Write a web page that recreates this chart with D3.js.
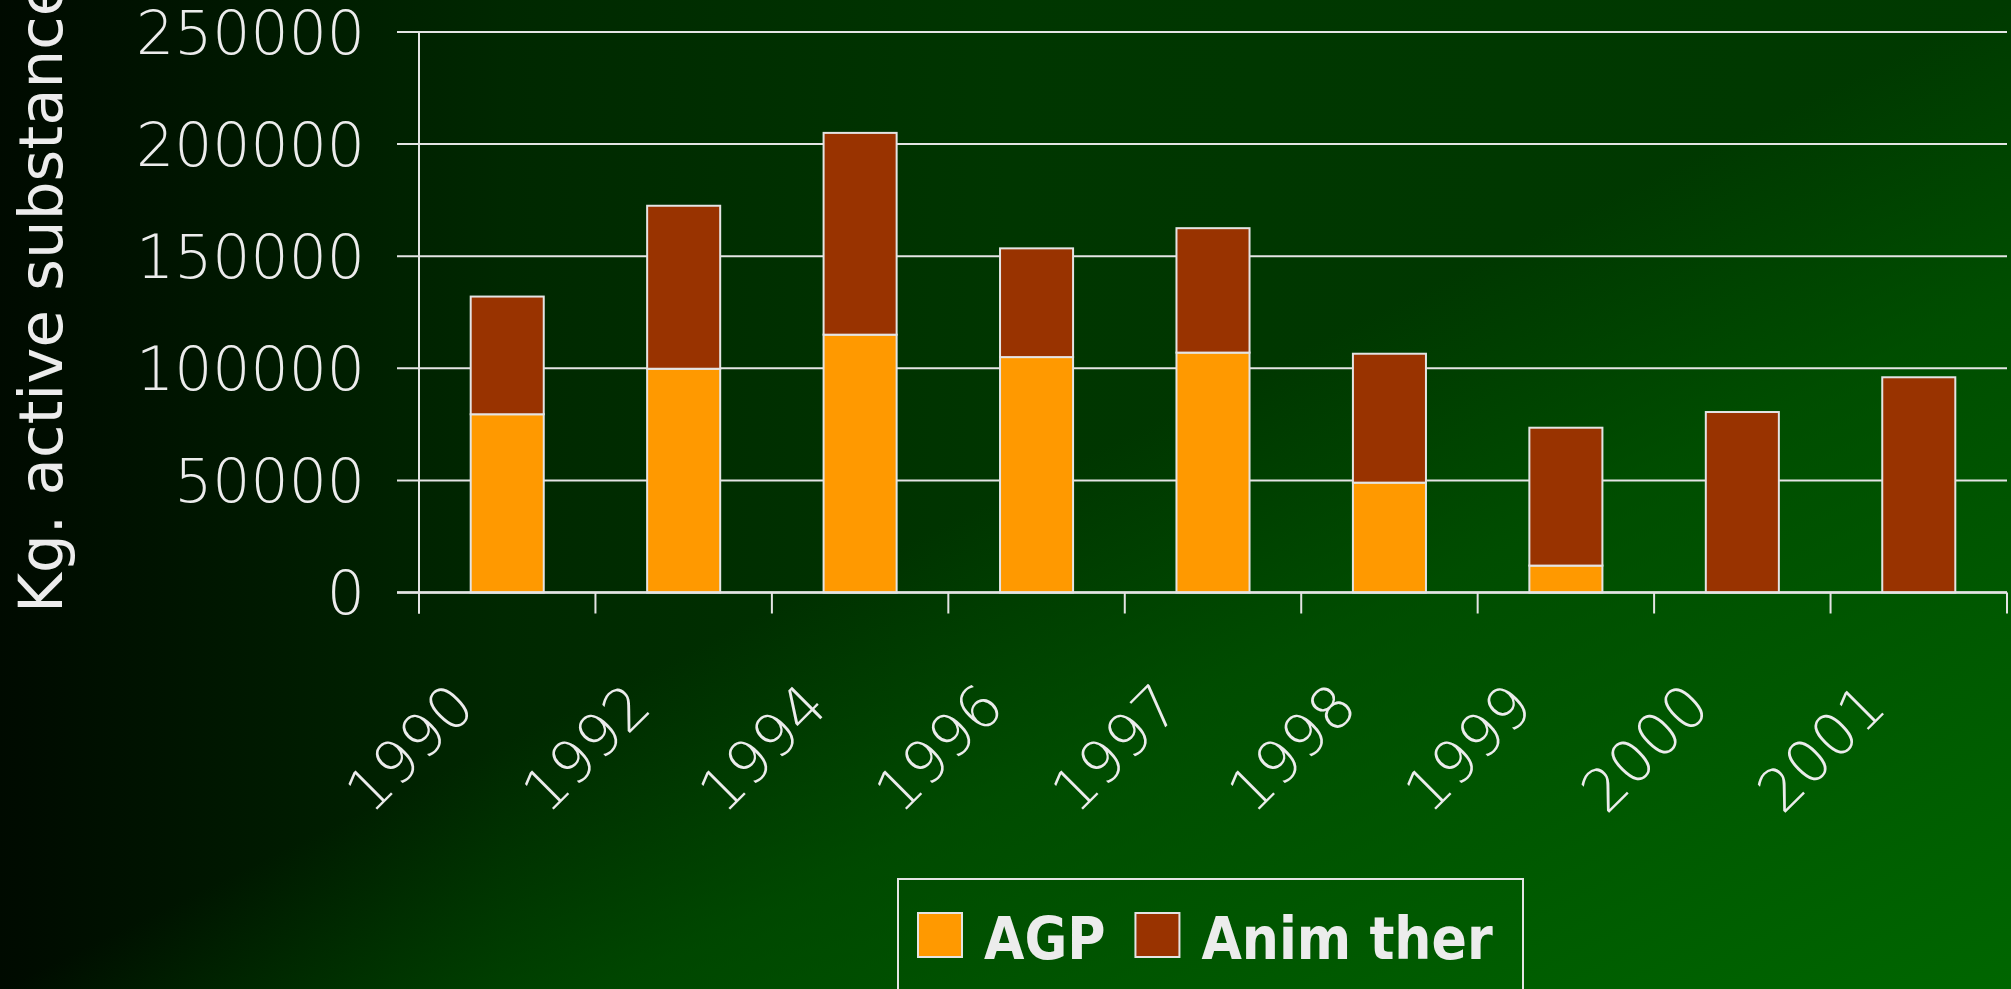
<!DOCTYPE html>
<html>
<head>
<meta charset="utf-8">
<script src="https://cdn.jsdelivr.net/npm/d3@7"></script>
<style>
    html, body { margin: 0; padding: 0; background: #000; overflow: hidden; }
    svg { display: block; }
</style>
</head>
<body>
<svg id="chart" width="2011" height="989"></svg>
<script>
// Chart data
const years = ['1990', '1992', '1994', '1996', '1997', '1998', '1999', '2000', '2001'];
const agp = [79500, 99800, 115000, 105000, 107000, 49000, 12000, 0, 0];
const animTher = [52500, 72700, 90000, 48500, 55500, 57500, 61500, 80500, 96000];
const yTicks = [0, 50000, 100000, 150000, 200000, 250000];
const seriesNames = ['AGP', 'Anim ther'];

const colors = {
    'AGP': '#ff9900',
    'Anim ther': '#993300'
};

const width = 2011;
const height = 989;
const margin = { left: 419, right: 4, top: 32, bottom: 396.5 };
const lineColor = '#e4e4e4';
const textColor = '#ececec';
const tickFont = "'DejaVu Sans', sans-serif";
const legendFont = "'DejaVu Sans Condensed', 'DejaVu Sans', sans-serif";

let svg, x, y;

function init() {
    svg = d3.select('#chart');

    drawBackground();
    setupScales();
    drawGrid();
    drawBars();
    drawAxes();
    drawLegend();
}

function drawBackground() {
    const defs = svg.append('defs');

    // dark on the left, getting greener to the right
    const base = defs.append('linearGradient')
        .attr('id', 'bgBase')
        .attr('x1', 0).attr('y1', 0).attr('x2', 1).attr('y2', 0);
    base.append('stop').attr('offset', 0).attr('stop-color', '#000a00');
    base.append('stop').attr('offset', 0.25).attr('stop-color', '#002800');
    base.append('stop').attr('offset', 0.5).attr('stop-color', '#003600');
    base.append('stop').attr('offset', 1).attr('stop-color', '#003a00');

    // brighter green toward the bottom right corner
    const glow = defs.append('linearGradient')
        .attr('id', 'bgGlow')
        .attr('x1', 0.5).attr('y1', 0.5).attr('x2', 1).attr('y2', 1);
    glow.append('stop').attr('offset', 0).attr('stop-color', '#006600').attr('stop-opacity', 0);
    glow.append('stop').attr('offset', 0.3).attr('stop-color', '#006600').attr('stop-opacity', 0.45);
    glow.append('stop').attr('offset', 1).attr('stop-color', '#006600').attr('stop-opacity', 1);

    svg.append('rect').attr('width', width).attr('height', height).attr('fill', 'url(#bgBase)');
    svg.append('rect').attr('width', width).attr('height', height).attr('fill', 'url(#bgGlow)');
}

function setupScales() {
    x = d3.scaleBand()
        .domain(years)
        .range([margin.left, width - margin.right])
        .paddingInner(0.586)
        .paddingOuter(0.293);

    y = d3.scaleLinear()
        .domain([0, 250000])
        .range([height - margin.bottom, margin.top]);
}

function drawGrid() {
    // horizontal gridlines, they also form the outward y ticks
    svg.append('g')
        .attr('class', 'grid')
        .selectAll('line')
        .data(yTicks)
        .enter().append('line')
        .attr('x1', margin.left - 22)
        .attr('x2', width - margin.right)
        .attr('y1', d => y(d))
        .attr('y2', d => y(d))
        .attr('stroke', lineColor)
        .attr('stroke-width', 2);
}

function drawBars() {
    const rows = years.map((yr, i) => ({ year: yr, 'AGP': agp[i], 'Anim ther': animTher[i] }));
    const stacked = d3.stack().keys(seriesNames)(rows);

    svg.append('g')
        .attr('class', 'bars')
        .selectAll('g')
        .data(stacked)
        .enter().append('g')
        .attr('fill', d => colors[d.key])
        .selectAll('rect')
        .data(d => d.filter(s => s[1] > s[0]))
        .enter().append('rect')
        .attr('x', d => x(d.data.year))
        .attr('width', x.bandwidth())
        .attr('y', d => y(d[1]))
        .attr('height', d => y(d[0]) - y(d[1]))
        .attr('stroke', lineColor)
        .attr('stroke-width', 2);
}

function drawAxes() {
    const y0 = y(0);

    // bottom axis line over the bars
    svg.append('line')
        .attr('x1', margin.left - 22).attr('x2', width - margin.right)
        .attr('y1', y0).attr('y2', y0)
        .attr('stroke', lineColor).attr('stroke-width', 2.5);

    // vertical axis line, reaching past zero like the x ticks
    svg.append('line')
        .attr('x1', margin.left).attr('x2', margin.left)
        .attr('y1', y(250000)).attr('y2', y0 + 21)
        .attr('stroke', lineColor).attr('stroke-width', 2);

    // x ticks sit between the categories
    const step = x.step();
    const boundaries = d3.range(years.length + 1).map(i => x.range()[0] + i * step);
    svg.append('g')
        .selectAll('line')
        .data(boundaries)
        .enter().append('line')
        .attr('x1', d => d).attr('x2', d => d)
        .attr('y1', y0).attr('y2', y0 + 21)
        .attr('stroke', lineColor).attr('stroke-width', 2);

    // y tick labels
    svg.append('g')
        .selectAll('text')
        .data(yTicks)
        .enter().append('text')
        .attr('x', 365)
        .attr('y', d => y(d))
        .attr('dy', '0.36em')
        .attr('text-anchor', 'end')
        .attr('fill', textColor)
        .style('font-family', tickFont)
        .style('font-weight', 200)
        .style('font-size', '60px')
        .text(d => d);

    // x tick labels, rotated 45 degrees
    svg.append('g')
        .selectAll('text')
        .data(years)
        .enter().append('text')
        .attr('transform', d => `translate(${x(d) + x.bandwidth() / 2 - 30}, ${y0 + 117}) rotate(-45)`)
        .attr('text-anchor', 'end')
        .attr('fill', textColor)
        .style('font-family', tickFont)
        .style('font-weight', 200)
        .style('font-size', '59px')
        .text(d => d);

    // y axis title
    svg.append('text')
        .attr('transform', 'translate(62, 613) rotate(-90)')
        .attr('text-anchor', 'start')
        .attr('fill', textColor)
        .style('font-family', tickFont)
        .style('font-size', '61px')
        .text('Kg. active substance');
}

function drawLegend() {
    const legend = svg.append('g').attr('class', 'legend');

    legend.append('rect')
        .attr('x', 898).attr('y', 879)
        .attr('width', 625).attr('height', 140)
        .attr('fill', 'none')
        .attr('stroke', lineColor)
        .attr('stroke-width', 2);

    let cx = 918;
    seriesNames.forEach(name => {
        legend.append('rect')
            .attr('x', cx).attr('y', 913)
            .attr('width', 44).attr('height', 44)
            .attr('fill', colors[name])
            .attr('stroke', lineColor)
            .attr('stroke-width', 2);

        const label = legend.append('text')
            .attr('x', cx + 66).attr('y', 959)
            .attr('fill', textColor)
            .style('font-family', legendFont)
            .style('font-weight', 'bold')
            .style('font-size', '58px')
            .text(name);

        cx += 66 + label.node().getComputedTextLength() + 30;
    });
}

document.addEventListener('DOMContentLoaded', init);
</script>
</body>
</html>
